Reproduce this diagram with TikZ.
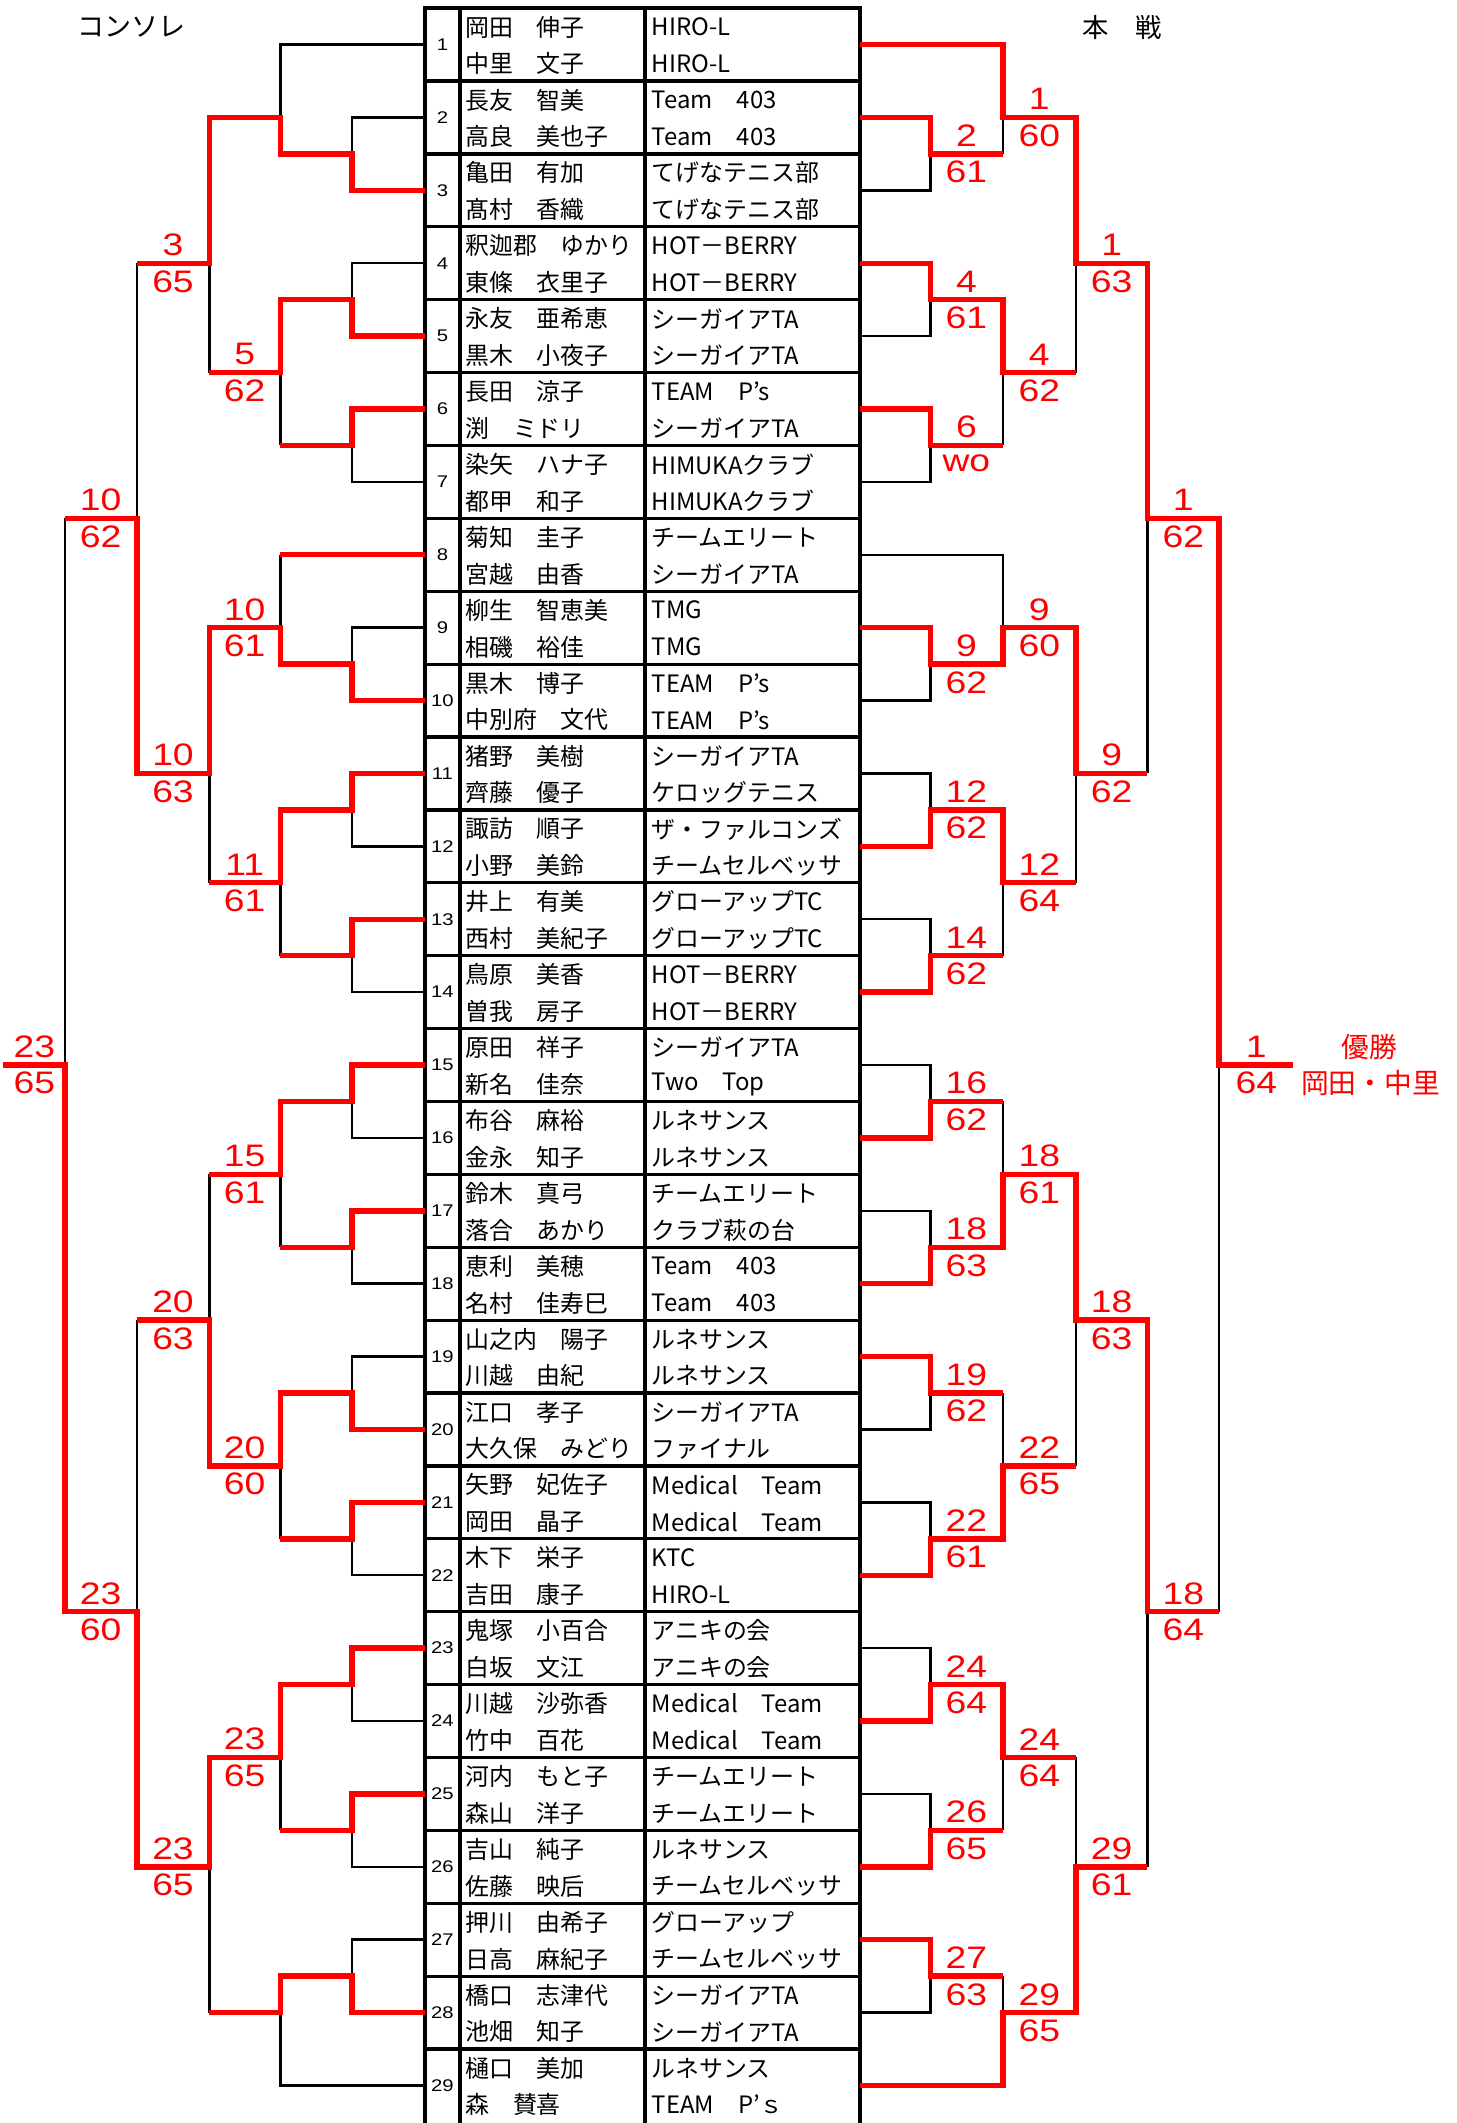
\documentclass[tikz,border=0pt]{standalone}
\usepackage{fontspec}
\setmainfont{Noto Sans CJK JP}
\newfontfamily\numfont[FakeStretch=1.2]{Liberation Sans}
\def\La{260.5}\def\Lb{207.5}\def\Lc{155}\def\Ld{101.5}\def\Le{48}\def\Lf{2.5}
\def\Ra{688.5}\def\Rb{742}\def\Rc{796}\def\Rd{849}\def\Re{902}\def\Rf{957}
\begin{document}
\begin{tikzpicture}[x=1pt,y=-26.965pt,
  blk/.style={line width=1.8pt},
  rd/.style={line width=4pt,red},
  tbl/.style={line width=2.4pt},
  nm/.style={anchor=west,inner sep=0pt,font=\fontsize{17.7}{17.7}\selectfont},
  sc/.style={text=red,inner sep=0pt,font=\numfont\fontsize{23}{23}\selectfont},
  eno/.style={inner sep=0pt,font=\numfont\fontsize{12.5}{12.5}\selectfont},
  hd/.style={inner sep=0pt,font=\fontsize{20}{20}\selectfont},
  win/.style={text=red,inner sep=0pt,font=\fontsize{20.5}{20.5}\selectfont}]
\useasboundingbox (0,-0.2225) rectangle (1078,58.03);

% headers
\node[hd] (hcons) at (97.5,0.52) {コンソレ};
\node[hd,font=\fontsize{19.5}{19.5}\selectfont] (hmain) at (830.5,0.52) {本　戦};

% table grid
\draw[tbl,line join=miter] (314.4,58.6) -- (314.4,0) -- (636.3,0) -- (636.3,58.6);
\draw[tbl] (340.3,0) -- (340.3,58.6);
\draw[tbl] (477.2,0) -- (477.2,58.6);
\foreach \k in {1,...,28} \draw[tbl] (314.4,2*\k) -- (636.3,2*\k);

% entry anchors
\foreach \k in {1,...,29} {
  \coordinate (L\k) at (314.4,2*\k-1);
  \coordinate (R\k) at (636.3,2*\k-1);
}

% table text
\foreach \k/\na/\nb/\ta/\tb in {
 1/岡田　伸子/中里　文子/HIRO-L/HIRO-L,
 2/長友　智美/高良　美也子/Team　403/Team　403,
 3/亀田　有加/髙村　香織/てげなテニス部/てげなテニス部,
 4/釈迦郡　ゆかり/東條　衣里子/HOT－BERRY/HOT－BERRY,
 5/永友　亜希恵/黒木　小夜子/シーガイアTA/シーガイアTA,
 6/長田　涼子/渕　ミドリ/TEAM　P’s/シーガイアTA,
 7/染矢　ハナ子/都甲　和子/HIMUKAクラブ/HIMUKAクラブ,
 8/菊知　圭子/宮越　由香/チームエリート/シーガイアTA,
 9/柳生　智恵美/相磯　裕佳/TMG/TMG,
 10/黒木　博子/中別府　文代/TEAM　P’s/TEAM　P’s,
 11/猪野　美樹/齊藤　優子/シーガイアTA/ケロッグテニス,
 12/諏訪　順子/小野　美鈴/ザ・ファルコンズ/チームセルベッサ,
 13/井上　有美/西村　美紀子/グローアップTC/グローアップTC,
 14/鳥原　美香/曽我　房子/HOT－BERRY/HOT－BERRY,
 15/原田　祥子/新名　佳奈/シーガイアTA/Two　Top,
 16/布谷　麻裕/金永　知子/ルネサンス/ルネサンス,
 17/鈴木　真弓/落合　あかり/チームエリート/クラブ萩の台,
 18/恵利　美穂/名村　佳寿巳/Team　403/Team　403,
 19/山之内　陽子/川越　由紀/ルネサンス/ルネサンス,
 20/江口　孝子/大久保　みどり/シーガイアTA/ファイナル,
 21/矢野　妃佐子/岡田　晶子/Medical　Team/Medical　Team,
 22/木下　栄子/吉田　康子/KTC/HIRO-L,
 23/鬼塚　小百合/白坂　文江/アニキの会/アニキの会,
 24/川越　沙弥香/竹中　百花/Medical　Team/Medical　Team,
 25/河内　もと子/森山　洋子/チームエリート/チームエリート,
 26/吉山　純子/佐藤　映后/ルネサンス/チームセルベッサ,
 27/押川　由希子/日高　麻紀子/グローアップ/チームセルベッサ,
 28/橋口　志津代/池畑　知子/シーガイアTA/シーガイアTA,
 29/樋口　美加/森　賛喜/ルネサンス/TEAM　P’ｓ} {
  \node[eno] (no\k) at (327.35,2*\k-1) {\k};
  \node[nm] (pa\k) at (344,2*\k-1.48) {\na};
  \node[nm] (pb\k) at (344,2*\k-0.47) {\nb};
  \node[nm] (ta\k) at (482,2*\k-1.48) {\ta};
  \node[nm] (tb\k) at (482,2*\k-0.47) {\tb};
}

% ---------- left (consolation) black ----------
\draw[blk] (L1) -- (\Lb,1) -- (\Lb,3);
\draw[blk] (L2) -- (\La,3) -- (\La,4);
\draw[blk] (L4) -- (\La,7) -- (\La,8);
\draw[blk] (L7) -- (\La,13) -- (\La,12);
\draw[blk] (\Lc,7) -- (\Lc,10);
\draw[blk] (\Lb,10) -- (\Lb,12);
\draw[blk] (\Ld,7) -- (\Ld,14);
\draw[blk] (L9) -- (\La,17) -- (\La,18);
\draw[blk] (\Lb,15) -- (\Lb,17);
\draw[blk] (L12) -- (\La,23) -- (\La,22);
\draw[blk] (\Lc,21) -- (\Lc,24);
\draw[blk] (\Lb,24) -- (\Lb,26);
\draw[blk] (L14) -- (\La,27) -- (\La,26);
\draw[blk] (\Le,14) -- (\Le,29);
\draw[blk] (L16) -- (\La,31) -- (\La,30);
\draw[blk] (\Lb,32) -- (\Lb,34);
\draw[blk] (L18) -- (\La,35) -- (\La,34);
\draw[blk] (\Lc,32) -- (\Lc,36);
\draw[blk] (L19) -- (\La,37) -- (\La,38);
\draw[blk] (\Lb,40) -- (\Lb,42);
\draw[blk] (L22) -- (\La,43) -- (\La,42);
\draw[blk] (\Ld,36) -- (\Ld,44);
\draw[blk] (L24) -- (\La,47) -- (\La,46);
\draw[blk] (\Lb,48) -- (\Lb,50);
\draw[blk] (L26) -- (\La,51) -- (\La,50);
\draw[blk] (\Lc,51) -- (\Lc,55);
\draw[blk] (L27) -- (\La,53) -- (\La,54);
\draw[blk] (L29) -- (\Lb,57) -- (\Lb,55);

% ---------- right (main) black ----------
\draw[blk] (R3) -- (\Ra,5) -- (\Ra,4);
\draw[blk] (\Rb,3) -- (\Rb,4);
\draw[blk] (R5) -- (\Ra,9) -- (\Ra,8);
\draw[blk] (\Rc,7) -- (\Rc,10);
\draw[blk] (R7) -- (\Ra,13) -- (\Ra,12);
\draw[blk] (\Rb,10) -- (\Rb,12);
\draw[blk] (\Rd,14) -- (\Rd,21);
\draw[blk] (R8) -- (\Rb,15) -- (\Rb,17);
\draw[blk] (R10) -- (\Ra,19) -- (\Ra,18);
\draw[blk] (R11) -- (\Ra,21) -- (\Ra,22);
\draw[blk] (\Rc,21) -- (\Rc,24);
\draw[blk] (R13) -- (\Ra,25) -- (\Ra,26);
\draw[blk] (\Rb,24) -- (\Rb,26);
\draw[blk] (R15) -- (\Ra,29) -- (\Ra,30);
\draw[blk] (\Rb,30) -- (\Rb,32);
\draw[blk] (R17) -- (\Ra,33) -- (\Ra,34);
\draw[blk] (\Re,29) -- (\Re,44);
\draw[blk] (\Rc,36) -- (\Rc,40);
\draw[blk] (R20) -- (\Ra,39) -- (\Ra,38);
\draw[blk] (\Rb,38) -- (\Rb,40);
\draw[blk] (R21) -- (\Ra,41) -- (\Ra,42);
\draw[blk] (R23) -- (\Ra,45) -- (\Ra,46);
\draw[blk] (\Rd,44) -- (\Rd,51);
\draw[blk] (\Rb,48) -- (\Rb,50);
\draw[blk] (\Rc,48) -- (\Rc,51);
\draw[blk] (R25) -- (\Ra,49) -- (\Ra,50);
\draw[blk] (\Rb,54) -- (\Rb,55);
\draw[blk] (R28) -- (\Ra,55) -- (\Ra,54);

% ---------- left red ----------
\draw[rd] (L3) -- (\La,5) -- (\La,4) -- (\Lb,4) -- (\Lb,3) -- (\Lc,3) -- (\Lc,7) -- (\Ld,7);
\draw[rd] (L5) -- (\La,9) -- (\La,8) -- (\Lb,8) -- (\Lb,10) -- (\Lc,10);
\draw[rd] (L6) -- (\La,11) -- (\La,12) -- (\Lb,12);
\draw[rd] (L8) -- (\Lb,15);
\draw[rd] (L10) -- (\La,19) -- (\La,18) -- (\Lb,18) -- (\Lb,17) -- (\Lc,17) -- (\Lc,21) -- (\Ld,21) -- (\Ld,14) -- (\Le,14);
\draw[rd] (L11) -- (\La,21) -- (\La,22) -- (\Lb,22) -- (\Lb,24) -- (\Lc,24);
\draw[rd] (L13) -- (\La,25) -- (\La,26) -- (\Lb,26);
\draw[rd] (L15) -- (\La,29) -- (\La,30) -- (\Lb,30) -- (\Lb,32) -- (\Lc,32);
\draw[rd] (L17) -- (\La,33) -- (\La,34) -- (\Lb,34);
\draw[rd] (L20) -- (\La,39) -- (\La,38) -- (\Lb,38) -- (\Lb,40) -- (\Lc,40) -- (\Lc,36) -- (\Ld,36);
\draw[rd] (L21) -- (\La,41) -- (\La,42) -- (\Lb,42);
\draw[rd] (L23) -- (\La,45) -- (\La,46) -- (\Lb,46) -- (\Lb,48) -- (\Lc,48) -- (\Lc,51) -- (\Ld,51) -- (\Ld,44) -- (\Le,44) -- (\Le,29) -- (\Lf,29);
\draw[rd] (L25) -- (\La,49) -- (\La,50) -- (\Lb,50);
\draw[rd] (L28) -- (\La,55) -- (\La,54) -- (\Lb,54) -- (\Lb,55) -- (\Lc,55);

% ---------- right red ----------
\draw[rd] (R1) -- (\Rb,1) -- (\Rb,3) -- (\Rc,3) -- (\Rc,7) -- (\Rd,7) -- (\Rd,14) -- (\Re,14) -- (\Re,29) -- (\Rf,29);
\draw[rd] (R2) -- (\Ra,3) -- (\Ra,4) -- (\Rb,4);
\draw[rd] (R4) -- (\Ra,7) -- (\Ra,8) -- (\Rb,8) -- (\Rb,10) -- (\Rc,10);
\draw[rd] (R6) -- (\Ra,11) -- (\Ra,12) -- (\Rb,12);
\draw[rd] (R9) -- (\Ra,17) -- (\Ra,18) -- (\Rb,18) -- (\Rb,17) -- (\Rc,17) -- (\Rc,21) -- (\Rd,21);
\draw[rd] (R12) -- (\Ra,23) -- (\Ra,22) -- (\Rb,22) -- (\Rb,24) -- (\Rc,24);
\draw[rd] (R14) -- (\Ra,27) -- (\Ra,26) -- (\Rb,26);
\draw[rd] (R16) -- (\Ra,31) -- (\Ra,30) -- (\Rb,30);
\draw[rd] (R18) -- (\Ra,35) -- (\Ra,34) -- (\Rb,34) -- (\Rb,32) -- (\Rc,32) -- (\Rc,36) -- (\Rd,36) -- (\Rd,44) -- (\Re,44);
\draw[rd] (R19) -- (\Ra,37) -- (\Ra,38) -- (\Rb,38);
\draw[rd] (R22) -- (\Ra,43) -- (\Ra,42) -- (\Rb,42) -- (\Rb,40) -- (\Rc,40);
\draw[rd] (R24) -- (\Ra,47) -- (\Ra,46) -- (\Rb,46) -- (\Rb,48) -- (\Rc,48);
\draw[rd] (R26) -- (\Ra,51) -- (\Ra,50) -- (\Rb,50);
\draw[rd] (R27) -- (\Ra,53) -- (\Ra,54) -- (\Rb,54);
\draw[rd] (R29) -- (\Rb,57) -- (\Rb,55) -- (\Rc,55) -- (\Rc,51) -- (\Rd,51);

% ---------- score labels ----------
\foreach \x/\r/\a/\b [count=\i] in {
 128/7/3/65, 181/10/5/62, 74.5/14/10/62, 181/17/10/61, 128/21/10/63,
 181/24/11/61, 25.5/29/23/65, 181/32/15/61, 128/36/20/63, 181/40/20/60,
 74.5/44/23/60, 181/48/23/65, 128/51/23/65} {
  \node[sc] (lt\i) at (\x,\r-0.5) {\a};
  \node[sc] (lb\i) at (\x,\r+0.5) {\b};
}
\foreach \x/\r/\a/\b [count=\i] in {
 715/4/2/61, 769/3/1/60, 715/8/4/61, 822.5/7/1/63, 769/10/4/62,
 715/12/6/wo, 875.5/14/1/62, 715/18/9/62, 769/17/9/60, 822.5/21/9/62,
 715/22/12/62, 769/24/12/64, 715/26/14/62, 929.5/29/1/64, 715/30/16/62,
 769/32/18/61, 715/34/18/63, 822.5/36/18/63, 715/38/19/62, 769/40/22/65,
 715/42/22/61, 875.5/44/18/64, 715/46/24/64, 769/48/24/64, 715/50/26/65,
 822.5/51/29/61, 715/54/27/63, 769/55/29/65} {
  \node[sc] (rt\i) at (\x,\r-0.5) {\a};
  \node[sc] (rb\i) at (\x,\r+0.5) {\b};
}

% champion
\node[win] (champ) at (1013,28.5) {優勝};
\node[win] (champn) at (1014,29.5) {岡田・中里};
\end{tikzpicture}
\end{document}
